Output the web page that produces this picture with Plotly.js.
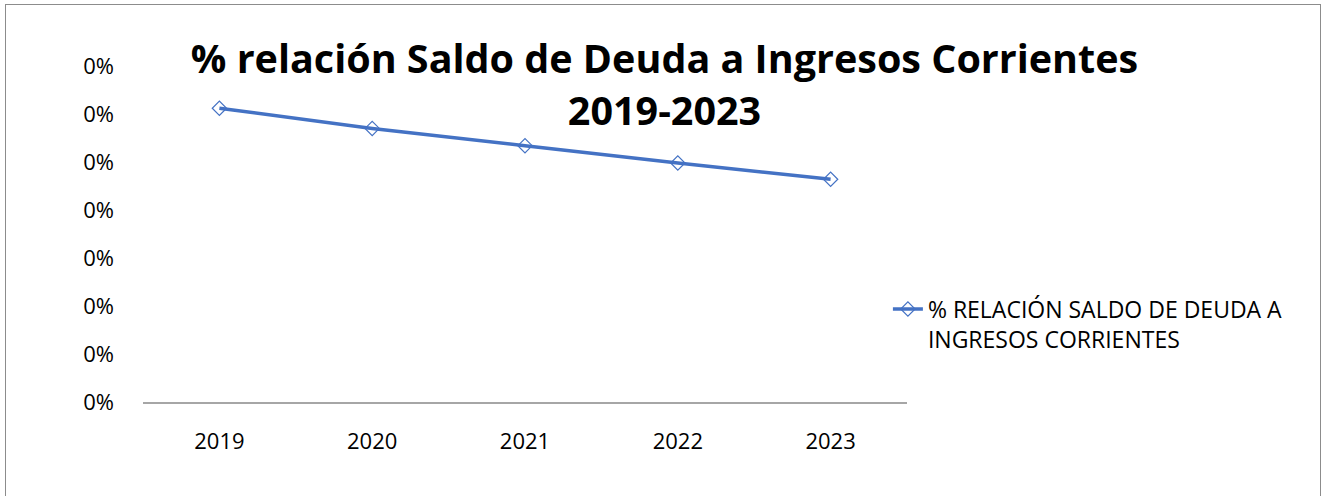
<!DOCTYPE html>
<html><head><meta charset="utf-8">
<script src="https://cdn.plot.ly/plotly-3.0.1.min.js"></script>
<style>
html,body{margin:0;padding:0;background:#fff;}
#wrap{position:relative;width:1329px;height:496px;overflow:hidden;}
#chart{width:1329px;height:496px;}
#frame{position:absolute;left:5px;top:4px;width:1316px;height:520px;border:1.5px solid #8c8c8c;pointer-events:none;box-sizing:border-box;}
</style></head>
<body><div id="wrap"><div id="chart"></div><div id="frame"></div></div>
<script>
const years = ['2019','2020','2021','2022','2023'];
const ratio = [0.00306, 0.00285, 0.00267, 0.00249, 0.00232];
const seriesName = '% RELACIÓN SALDO DE DEUDA A<br>INGRESOS CORRIENTES';
const titleText = '<b>% relación Saldo de Deuda a Ingresos Corrientes<br>2019-2023</b>';
const FONT = '"Open Sans", Lato, sans-serif';

const trace = {
  x: years, y: ratio, type: 'scatter', mode: 'lines+markers', name: seriesName,
  line: {color: '#4472C4', width: 3.5},
  marker: {symbol: 'diamond-open', size: 11, color: '#4472C4', line: {width: 1.2, color: '#4472C4'}}
};
const layout = {
  width: 1329, height: 496,
  margin: {l: 143, r: 422, t: 66, b: 94},
  paper_bgcolor: '#fff', plot_bgcolor: '#fff',
  font: {family: FONT, color: '#000', size: 22},
  title: {text: titleText, font: {family: FONT, size: 39.5, color: '#000'},
          x: 0.5, xref: 'container', xanchor: 'center', y: 0.852, yref: 'container', yanchor: 'top'},
  xaxis: {type: 'category', range: [-0.5, 4.5], showgrid: false, zeroline: false,
          showline: true, linecolor: '#A6A6A6', linewidth: 1.5, ticks: '',
          ticklabelstandoff: 19, tickfont: {family: FONT, size: 22, color: '#000'}},
  yaxis: {range: [0, 0.0035], dtick: 0.0005, tick0: 0, tickformat: '.0%', showgrid: false,
          zeroline: false, showline: false, ticks: '', ticklabelstandoff: 28,
          tickfont: {family: FONT, size: 22, color: '#000'}},
  showlegend: true,
  legend: {x: 0.975, xanchor: 'left', y: 0.232, yanchor: 'middle', bgcolor: 'rgba(0,0,0,0)',
           valign: 'top', font: {family: FONT, size: 23, color: '#000'}, itemwidth: 30, tracegroupgap: 0}
};
Plotly.newPlot('chart', [trace], layout, {displayModeBar: false, staticPlot: true});
</script></body></html>
